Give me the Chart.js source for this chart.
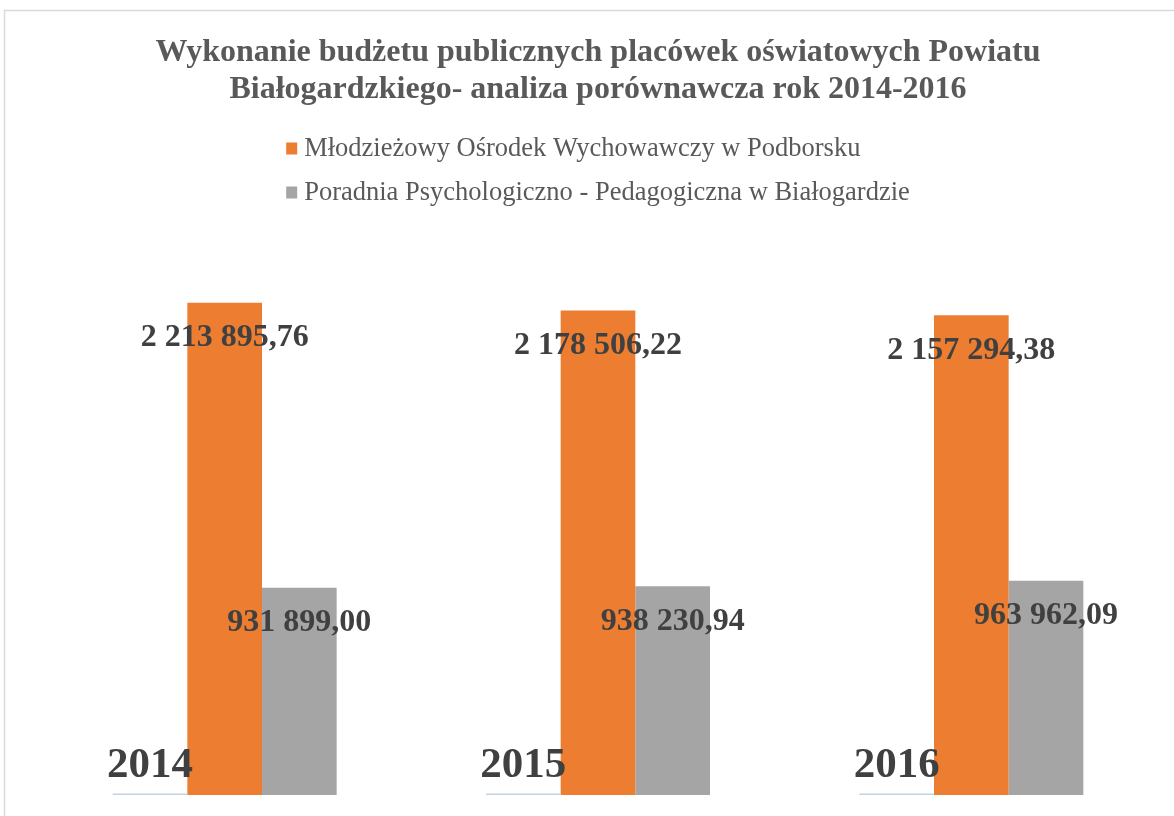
<!DOCTYPE html>
<html>
<head>
<meta charset="utf-8">
<script src="https://cdn.jsdelivr.net/npm/chart.js@4"></script>
<style>
  html, body { margin: 0; padding: 0; background: #ffffff; overflow: hidden; }
  #wrap { position: relative; width: 1174px; height: 816px; }
</style>
</head>
<body>
<div id="wrap"><canvas id="c"></canvas></div>
<script>
const categories = ['2014', '2015', '2016'];
const yearValues = [2014, 2015, 2016];
const mowValues = [2213895.76, 2178506.22, 2157294.38];
const pppValues = [931899.00, 938230.94, 963962.09];
const seriesNames = ['Rok', 'Młodzieżowy Ośrodek Wychowawczy w Podborsku', 'Poradnia Psychologiczno - Pedagogiczna w Białogardzie'];
const titleLines = ['Wykonanie budżetu publicznych placówek oświatowych Powiatu', 'Białogardzkiego- analiza porównawcza rok 2014-2016'];

const SERIF = '"Liberation Serif", "Times New Roman", serif';

function fmtPL(v) {
  const parts = v.toFixed(2).split('.');
  return parts[0].replace(/\B(?=(\d{3})+(?!\d))/g, ' ') + ',' + parts[1];
}

const frameBorder = {
  id: 'frameBorder',
  beforeDraw(chart) {
    const ctx = chart.ctx;
    ctx.save();
    ctx.strokeStyle = '#d9d9d9';
    ctx.lineWidth = 1.5;
    ctx.beginPath();
    ctx.moveTo(4.5, chart.height);
    ctx.lineTo(4.5, 10.5);
    ctx.lineTo(chart.width, 10.5);
    ctx.stroke();
    ctx.restore();
  }
};

const customLegend = {
  id: 'customLegend',
  afterDraw(chart) {
    const ctx = chart.ctx;
    const items = [1, 2];
    ctx.save();
    ctx.font = '26.5px ' + SERIF;
    const widths = items.map(i => ctx.measureText(chart.data.datasets[i].label).width);
    const box = 11, gap = 7;
    const boxW = box + gap + Math.max(...widths);
    const cx = (chart.chartArea.left + chart.chartArea.right) / 2;
    const x0 = cx - boxW / 2;
    const rowY = [148, 192];
    items.forEach((i, k) => {
      const ds = chart.data.datasets[i];
      ctx.fillStyle = ds.backgroundColor;
      ctx.fillRect(x0, rowY[k] - box / 2, box, box + 1);
      ctx.fillStyle = '#595959';
      ctx.textBaseline = 'middle';
      ctx.textAlign = 'left';
      ctx.fillText(ds.label, x0 + box + gap, rowY[k] + 1);
    });
    ctx.restore();
  }
};

const dataLabels = {
  id: 'dataLabels',
  afterDatasetsDraw(chart) {
    const ctx = chart.ctx;
    ctx.save();
    ctx.fillStyle = '#404040';
    ctx.textAlign = 'center';
    ctx.textBaseline = 'middle';
    chart.data.datasets.forEach((ds, di) => {
      const meta = chart.getDatasetMeta(di);
      meta.data.forEach((bar, idx) => {
        const v = ds.data[idx];
        if (di === 0) {
          ctx.font = 'bold 43px ' + SERIF;
          ctx.fillText(String(v), bar.x, bar.base - 29);
        } else {
          ctx.font = 'bold 32px ' + SERIF;
          ctx.fillText(fmtPL(v), bar.x, bar.y + 35);
        }
      });
    });
    ctx.restore();
  }
};

new Chart(document.getElementById('c'), {
  type: 'bar',
  data: {
    labels: categories,
    datasets: [
      { label: seriesNames[0], data: yearValues, backgroundColor: '#c3d3e3', minBarLength: 1.5 },
      { label: seriesNames[1], data: mowValues, backgroundColor: '#ED7D31' },
      { label: seriesNames[2], data: pppValues, backgroundColor: '#A5A5A5' }
    ]
  },
  options: {
    responsive: true,
    maintainAspectRatio: false,
    animation: false,
    layout: { padding: { left: 38, right: 16, top: 0, bottom: 21 } },
    datasets: { bar: { categoryPercentage: 0.6, barPercentage: 1.0 } },
    scales: {
      x: { display: false },
      y: { display: false, min: 0, max: 2500000 }
    },
    plugins: {
      legend: { display: false },
      tooltip: { enabled: false },
      title: {
        display: true,
        text: titleLines,
        color: '#595959',
        font: { family: SERIF, size: 32, weight: 'bold', lineHeight: 1.16 },
        padding: { top: 34.5, bottom: 130.3 }
      }
    }
  },
  plugins: [frameBorder, dataLabels, customLegend]
});
</script>
</body>
</html>
